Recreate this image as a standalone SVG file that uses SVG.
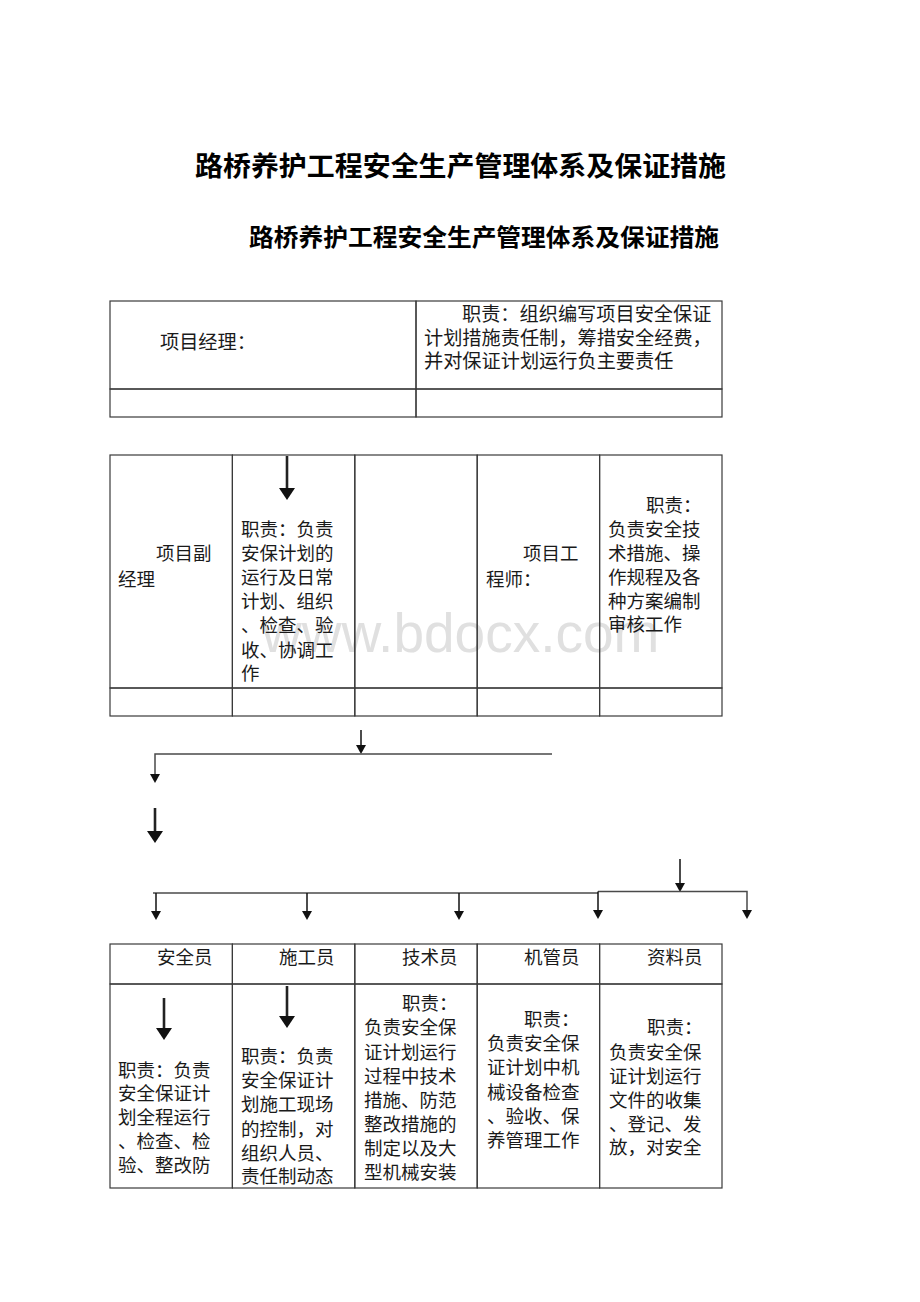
<svg xmlns="http://www.w3.org/2000/svg" width="920" height="1302" viewBox="0 0 920 1302">
<style>
.cell{fill:none;stroke:#3a3a3a;stroke-width:1.2}
.t{font-family:"Noto Sans CJK SC","Noto Sans CJK TC",sans-serif;font-size:18.5px;fill:#1a1a1a}
.t1{font-family:"Noto Sans CJK SC","Noto Sans CJK TC",sans-serif;font-size:19.2px;fill:#1a1a1a}
.h1{font-family:"Noto Sans CJK SC",sans-serif;font-size:26.8px;font-weight:bold;fill:#000}
.h2{font-family:"Noto Sans CJK SC",sans-serif;font-size:23.6px;font-weight:bold;fill:#000}
.wm{font-family:"Liberation Sans",Arial,sans-serif;font-size:55px;fill:#e0e0e0}
.ln{fill:none;stroke:#4a4a4a;stroke-width:1.5}
.ar{fill:none;stroke:#111;stroke-width:1.5}
.ab{fill:none;stroke:#222;stroke-width:2.6}
</style>
<defs>
<marker id="hs" markerUnits="userSpaceOnUse" viewBox="0 0 9 10" markerWidth="9" markerHeight="10" refX="0" refY="5" orient="auto"><path d="M0,0 L9,5 L0,10 z" fill="#111"/></marker>
<marker id="hb" markerUnits="userSpaceOnUse" viewBox="0 0 12 16" markerWidth="12" markerHeight="16" refX="0" refY="8" orient="auto"><path d="M0,0 L12,8 L0,16 z" fill="#111"/></marker>
</defs>
<rect x="0" y="0" width="920" height="1302" fill="#fff"/>
<text class="wm" x="262" y="652">www.bdocx.com</text>
<g id="title">
<text class="h1" x="195" y="176" textLength="531" lengthAdjust="spacingAndGlyphs">路桥养护工程安全生产管理体系及保证措施</text>
<text class="h2" x="249" y="246" textLength="470" lengthAdjust="spacingAndGlyphs">路桥养护工程安全生产管理体系及保证措施</text>
</g>
<g id="manager">
<rect class="cell" x="110" y="301" width="306" height="88"/>
<text class="t1" x="160" y="349">项目经理：</text>
</g>
<g id="manager-duty">
<rect class="cell" x="416" y="301" width="306" height="88"/>
<text class="t1" x="462" y="321">职责：组织编写项目安全保证</text>
<text class="t1" x="424" y="345">计划措施责任制，筹措安全经费，</text>
<text class="t1" x="424" y="368">并对保证计划运行负主要责任</text>
</g>
<g id="manager-row2">
<rect class="cell" x="110" y="389" width="306" height="28"/>
<rect class="cell" x="416" y="389" width="306" height="28"/>
</g>
<g id="deputy">
<rect class="cell" x="110" y="455" width="122.4" height="233"/>
<text class="t" x="156" y="560">项目副</text>
<text class="t" x="118" y="586">经理</text>
</g>
<g id="deputy-duty">
<rect class="cell" x="232.4" y="455" width="122.4" height="233"/>
<text class="t" x="241" y="536">职责：负责</text>
<text class="t" x="241" y="560">安保计划的</text>
<text class="t" x="241" y="584">运行及日常</text>
<text class="t" x="241" y="608">计划、组织</text>
<text class="t" x="241" y="632">、检查、验</text>
<text class="t" x="241" y="657">收、协调工</text>
<text class="t" x="241" y="680">作</text>
</g>
<g id="blank-col">
<rect class="cell" x="354.8" y="455" width="122.4" height="233"/>
</g>
<g id="engineer">
<rect class="cell" x="477.2" y="455" width="122.4" height="233"/>
<text class="t" x="523" y="560">项目工</text>
<text class="t" x="486" y="586">程师：</text>
</g>
<g id="engineer-duty">
<rect class="cell" x="599.6" y="455" width="122.4" height="233"/>
<text class="t" x="646" y="512">职责：</text>
<text class="t" x="608" y="536">负责安全技</text>
<text class="t" x="608" y="560">术措施、操</text>
<text class="t" x="608" y="584">作规程及各</text>
<text class="t" x="608" y="608">种方案编制</text>
<text class="t" x="608" y="631">审核工作</text>
</g>
<g id="row2-blank">
<rect class="cell" x="110" y="688" width="122.4" height="28"/>
<rect class="cell" x="232.4" y="688" width="122.4" height="28"/>
<rect class="cell" x="354.8" y="688" width="122.4" height="28"/>
<rect class="cell" x="477.2" y="688" width="122.4" height="28"/>
<rect class="cell" x="599.6" y="688" width="122.4" height="28"/>
</g>
<g id="safety">
<rect class="cell" x="110" y="944" width="122.4" height="40"/>
<rect class="cell" x="110" y="984" width="122.4" height="204"/>
<text class="t" x="157" y="964">安全员</text>
<text class="t" x="118" y="1077">职责：负责</text>
<text class="t" x="118" y="1100">安全保证计</text>
<text class="t" x="118" y="1124">划全程运行</text>
<text class="t" x="118" y="1148">、检查、检</text>
<text class="t" x="118" y="1172">验、整改防</text>
</g>
<g id="construction">
<rect class="cell" x="232.4" y="944" width="122.4" height="40"/>
<rect class="cell" x="232.4" y="984" width="122.4" height="204"/>
<text class="t" x="279" y="964">施工员</text>
<text class="t" x="241" y="1063">职责：负责</text>
<text class="t" x="241" y="1087">安全保证计</text>
<text class="t" x="241" y="1111">划施工现场</text>
<text class="t" x="241" y="1136">的控制，对</text>
<text class="t" x="241" y="1160">组织人员、</text>
<text class="t" x="241" y="1183">责任制动态</text>
</g>
<g id="technician">
<rect class="cell" x="354.8" y="944" width="122.4" height="40"/>
<rect class="cell" x="354.8" y="984" width="122.4" height="204"/>
<text class="t" x="402" y="964">技术员</text>
<text class="t" x="402" y="1010">职责：</text>
<text class="t" x="364" y="1034">负责安全保</text>
<text class="t" x="364" y="1059">证计划运行</text>
<text class="t" x="364" y="1083">过程中技术</text>
<text class="t" x="364" y="1107">措施、防范</text>
<text class="t" x="364" y="1131">整改措施的</text>
<text class="t" x="364" y="1155">制定以及大</text>
<text class="t" x="364" y="1179">型机械安装</text>
</g>
<g id="machinery">
<rect class="cell" x="477.2" y="944" width="122.4" height="40"/>
<rect class="cell" x="477.2" y="984" width="122.4" height="204"/>
<text class="t" x="524" y="964">机管员</text>
<text class="t" x="524" y="1026">职责：</text>
<text class="t" x="487" y="1050">负责安全保</text>
<text class="t" x="487" y="1074">证计划中机</text>
<text class="t" x="487" y="1099">械设备检查</text>
<text class="t" x="487" y="1123">、验收、保</text>
<text class="t" x="487" y="1147">养管理工作</text>
</g>
<g id="documents">
<rect class="cell" x="599.6" y="944" width="122.4" height="40"/>
<rect class="cell" x="599.6" y="984" width="122.4" height="204"/>
<text class="t" x="647" y="964">资料员</text>
<text class="t" x="647" y="1034">职责：</text>
<text class="t" x="609" y="1059">负责安全保</text>
<text class="t" x="609" y="1083">证计划运行</text>
<text class="t" x="609" y="1107">文件的收集</text>
<text class="t" x="609" y="1131">、登记、发</text>
<text class="t" x="609" y="1154">放，对安全</text>
</g>
<g id="connectors">
<line class="ab" x1="287" y1="456" x2="287" y2="488" marker-end="url(#hb)"/>
<line class="ar" x1="361" y1="730" x2="361" y2="745" marker-end="url(#hs)"/>
<path class="ln" d="M552,754 H155 V774" marker-end="url(#hs)"/>
<line class="ab" x1="155" y1="808" x2="155" y2="831" marker-end="url(#hb)"/>
<line class="ar" x1="680" y1="859" x2="680" y2="883" marker-end="url(#hs)"/>
<path class="ln" d="M153,893 H598"/>
<path class="ln" d="M598,891.5 H747 V910" marker-end="url(#hs)"/>
<line class="ar" x1="156" y1="893" x2="156" y2="911" marker-end="url(#hs)"/>
<line class="ar" x1="307" y1="893" x2="307" y2="911" marker-end="url(#hs)"/>
<line class="ar" x1="459" y1="893" x2="459" y2="911" marker-end="url(#hs)"/>
<line class="ar" x1="598" y1="891.5" x2="598" y2="910" marker-end="url(#hs)"/>
<line class="ab" x1="164" y1="998" x2="164" y2="1028" marker-end="url(#hb)"/>
<line class="ab" x1="287" y1="986" x2="287" y2="1016" marker-end="url(#hb)"/>
</g>
</svg>
